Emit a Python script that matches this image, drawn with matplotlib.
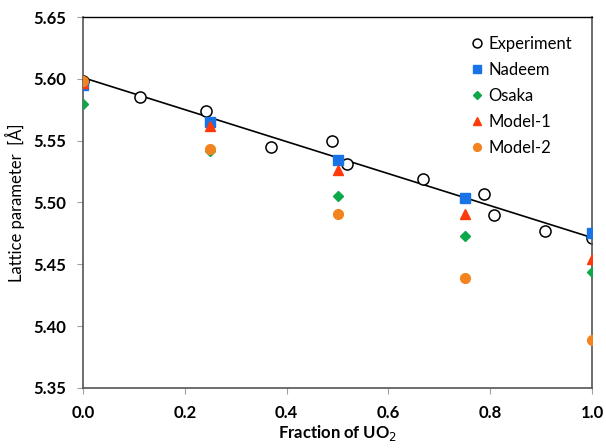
import numpy as np
import matplotlib.pyplot as plt

plt.rcParams['font.family'] = ['Lato', 'DejaVu Sans']

# experiment
exp_x = [0.0, 0.112, 0.241, 0.369, 0.489, 0.519, 0.668, 0.788, 0.807, 0.908, 1.0]
exp_y = [5.598, 5.585, 5.574, 5.545, 5.550, 5.531, 5.519, 5.507, 5.490, 5.477, 5.471]

# simulations
sim_x = [0.0, 0.25, 0.5, 0.75, 1.0]
nadeem = [5.595, 5.565, 5.534, 5.504, 5.475]
osaka = [5.580, 5.542, 5.505, 5.473, 5.444]
model1 = [5.597, 5.562, 5.526, 5.491, 5.454]
model2 = [5.598, 5.543, 5.491, 5.439, 5.389]

fig = plt.figure(figsize=(6.06, 4.48), dpi=100)
ax = fig.add_axes([0.137, 0.134, 0.840, 0.828])

# linear trend of experiment
k, b = np.polyfit(exp_x, exp_y, 1)
xx = np.array([0.0, 1.0])
ax.plot(xx, k * xx + b, color='black', lw=1.2, zorder=1)

ax.plot(exp_x, exp_y, 'o', mfc='white', mec='black', mew=1.1, ms=8,
        label='Experiment', zorder=2)
ax.plot(sim_x, nadeem, 's', color='#1874E6', ms=6.5, label='Nadeem', zorder=3)
ax.plot(sim_x, osaka, 'D', color='#0DA84A', ms=5, label='Osaka', zorder=3)
ax.plot(sim_x, model1, '^', color='#FF3A0A', ms=7.5, label='Model-1', zorder=3)
ax.plot(sim_x, model2, 'o', color='#F3831F', ms=7, label='Model-2', zorder=3)

ax.set_xlim(0, 1)
ax.set_ylim(5.35, 5.65)
ax.set_xticks(np.arange(0, 1.01, 0.2))
ax.set_yticks(np.arange(5.35, 5.651, 0.05))
ax.set_xticklabels(['%.1f' % v for v in np.arange(0, 1.01, 0.2)],
                   fontweight='bold', fontsize=12)
ax.set_yticklabels(['%.2f' % v for v in np.arange(5.35, 5.651, 0.05)],
                   fontweight='bold', fontsize=12)
ax.tick_params(axis='both', direction='out', length=4, color='#a0a0a0', pad=8)

for s in ['left', 'bottom', 'right']:
    ax.spines[s].set_color('#555555')
    ax.spines[s].set_linewidth(1.2)
ax.spines['top'].set_color('black')
ax.spines['top'].set_linewidth(1.0)

ax.set_xlabel('Fraction of UO$_2$', fontsize=12, fontweight='bold', labelpad=2)
ax.set_ylabel('Lattice parameter  [Å]', fontsize=12, labelpad=6)

ax.legend(loc='upper right', frameon=False, fontsize=12, handletextpad=0.1,
          handlelength=1.2, labelspacing=0.6, markerscale=0.8,
          bbox_to_anchor=(0.99, 0.99))

fig.savefig('out.png', dpi=100)
